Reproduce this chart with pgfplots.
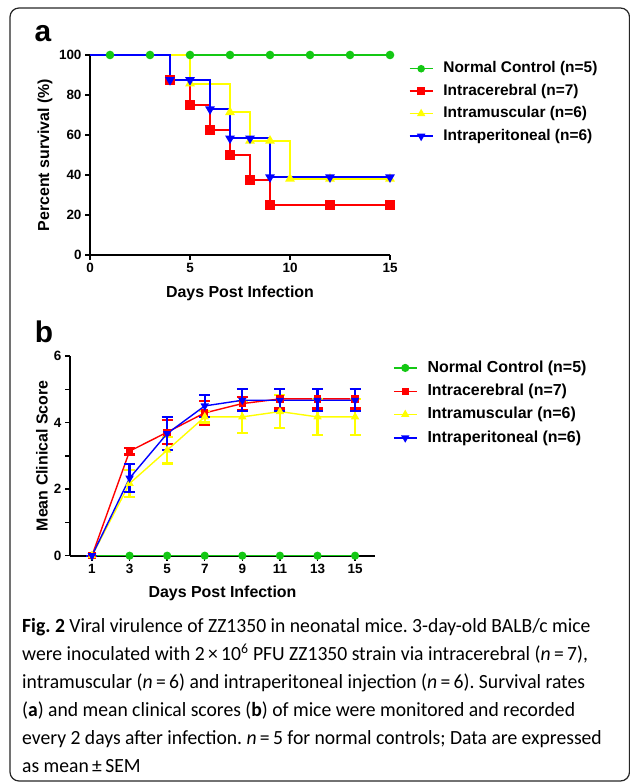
\documentclass[border=0pt]{standalone}
\usepackage{fontspec}
\setmainfont{Liberation Sans}
\newfontfamily\capfont[FakeStretch=0.975]{Carlito}
\usepackage{pgfplots}
\pgfplotsset{compat=1.18}

\definecolor{cgreen}{RGB}{20,200,20}
\definecolor{cred}{RGB}{255,0,0}
\definecolor{cyellow}{RGB}{255,255,0}
\definecolor{cblue}{RGB}{0,0,255}

\pgfplotsset{
  prism/.style={
    scale only axis, clip=false,
    axis lines*=left, axis line style={line width=1.8bp, -},
    tick align=outside, tick style={line width=1.5bp, black},
    major tick length=5bp, minor tick length=5bp,
    tick label style={font=\bfseries\fontsize{13.5}{14}\selectfont},
    label style={font=\bfseries\fontsize{16}{18}\selectfont},
    /pgf/number format/assume math mode=true,
    legend image code/.code={\draw[mark repeat=2,mark phase=2,##1] plot coordinates {(0bp,0bp) (11.5bp,0bp) (23bp,0bp)};},
    legend style={draw=none, fill=none, inner sep=0pt, outer sep=0pt, anchor=north west,
      nodes={inner sep=1bp, text height=12bp, text depth=3.5bp, anchor=west},
      column sep=9bp},
    legend cell align=left,
  },
  gr/.style={color=cgreen, line width=1.5bp, mark=*, mark size=3.5bp},
  rd/.style={color=cred, line width=1.5bp, mark=square*, mark size=3.5bp},
  yl/.style={color=cyellow, line width=1.5bp, mark=triangle*, mark size=4.2bp},
  bl/.style={color=cblue, line width=1.5bp, mark=triangle*, mark size=4.2bp, mark options={rotate=180}},
}

\begin{document}
\frenchspacing
\begin{tikzpicture}[x=1bp, y=1bp]
\path[use as bounding box] (0,0) rectangle (630,782);

% frame
\draw[line width=1.2bp, rounded corners=9bp, black!85] (10,1) rectangle (629.5,774);

% panel letters
\node[anchor=base, font=\bfseries\fontsize{30}{32}\selectfont] at (43,740) {a};
\node[anchor=base, font=\bfseries\fontsize{30}{32}\selectfont] at (44,439) {b};

% ---- panel a: survival
\begin{axis}[prism,
  at={(90bp,527bp)}, anchor=south west,
  width=300bp, height=200bp,
  xmin=0, xmax=15, ymin=0, ymax=100,
  xtick={0,5,10,15}, ytick={0,20,40,60,80,100},
  xlabel={Days Post Infection}, ylabel={Percent survival (\%)},
  xlabel style={at={(axis description cs:0.5,-0.19)}, anchor=center},
  ylabel style={at={(axis description cs:-0.15,0.5)}, anchor=center},
  legend style={at={(axis description cs:1.063,0.975)},
    font=\bfseries\fontsize{15.5}{18}\selectfont, row sep=5bp},
]
\addlegendimage{gr, mark size=3bp}
\addlegendentry{Normal Control (n=5)}
\addlegendimage{rd, mark size=3bp}
\addlegendentry{Intracerebral (n=7)}
\addlegendimage{yl, mark size=3.5bp}
\addlegendentry{Intramuscular (n=6)}
\addlegendimage{bl, mark size=3.5bp}
\addlegendentry{Intraperitoneal (n=6)}

\addplot[gr, line width=2bp, no marks, forget plot] coordinates {(0,100) (15,100)};
\addplot[gr, only marks, forget plot] coordinates {(1,100) (3,100) (5,100) (7,100) (9,100) (11,100) (13,100) (15,100)};

\addplot[rd, line width=2bp, no marks, const plot, forget plot] coordinates {(0,100) (4,87.5) (5,75) (6,62.5) (7,50) (8,37.5) (9,25) (15,25)};
\addplot[rd, only marks, mark size=3.8bp, forget plot] coordinates {(4,87.5) (5,75) (6,62.5) (7,50) (8,37.5) (9,25) (12,25) (15,25)};

\addplot[yl, line width=2bp, no marks, const plot, forget plot] coordinates {(0,100) (5,85.7) (7,71.4) (8,57.1) (10,38.1) (15,38.1)};
\addplot[yl, only marks, forget plot] coordinates {(5,85.7) (7,71.4) (8,57.1) (9,57.1) (10,38.1) (12,38.1) (15,38.1)};

\addplot[bl, line width=2bp, no marks, const plot, forget plot] coordinates {(0,100) (4,87.5) (6,72.9) (7,58.3) (9,38.9) (15,38.9)};
\addplot[bl, only marks, forget plot] coordinates {(4,87.5) (5,87.5) (6,72.9) (7,58.3) (8,58.3) (9,38.9) (12,38.9) (15,38.9)};
\end{axis}

% ---- panel b: clinical score
\begin{axis}[prism,
  at={(70bp,226.3bp)}, anchor=south west,
  width=305bp, height=199.7bp,
  xmin=-0.17, xmax=16.06, ymin=0, ymax=6,
  xtick={1,3,5,7,9,11,13,15}, ytick={0,2,4,6}, minor ytick={1,3,5},
  xlabel={Days Post Infection}, ylabel={Mean Clinical Score},
  xlabel style={at={(axis description cs:0.5,-0.187)}, anchor=center},
  ylabel style={at={(axis description cs:-0.092,0.5)}, anchor=center},
  legend style={at={(axis description cs:1.059,0.984)},
    font=\bfseries\fontsize{16}{18}\selectfont, row sep=5.8bp},
  error bars/error bar style={line width=2.2bp},
  error bars/error mark options={rotate=90, mark size=5.5bp, line width=2.2bp},
]
\addplot[gr, mark size=3.3bp] coordinates {(1,0) (3,0) (5,0) (7,0) (9,0) (11,0) (13,0) (15,0)};
\addlegendentry{Normal Control (n=5)}

\addplot[rd, mark size=3bp, line width=1.4bp, error bars/.cd, y dir=both, y explicit] coordinates {
  (1,0) +- (0,0) (3,3.14) +- (0,0.10) (5,3.71) +- (0,0.36) (7,4.29) +- (0,0.36)
  (9,4.57) +- (0,0.20) (11,4.71) +- (0,0.29) (13,4.71) +- (0,0.29) (15,4.71) +- (0,0.29)};
\addlegendentry{Intracerebral (n=7)}

\addplot[yl, mark size=3.5bp, line width=1.4bp, error bars/.cd, y dir=both, y explicit] coordinates {
  (1,0) +- (0,0) (3,2.17) +- (0,0.40) (5,3.17) +- (0,0.40) (7,4.17) +- (0,0.17)
  (9,4.17) +- (0,0.48) (11,4.33) +- (0,0.49) (13,4.17) +- (0,0.54) (15,4.17) +- (0,0.54)};
\addlegendentry{Intramuscular (n=6)}

\addplot[bl, mark size=3.5bp, line width=1.4bp, error bars/.cd, y dir=both, y explicit] coordinates {
  (1,0) +- (0,0) (3,2.33) +- (0,0.42) (5,3.67) +- (0,0.49) (7,4.50) +- (0,0.34)
  (9,4.67) +- (0,0.33) (11,4.67) +- (0,0.33) (13,4.67) +- (0,0.33) (15,4.67) +- (0,0.33)};
\addlegendentry{Intraperitoneal (n=6)}
\end{axis}

% caption
\begin{scope}[every node/.style={anchor=base west, inner sep=0pt, font=\capfont\fontsize{20.2}{22}\selectfont}]
\node at (22,149) {\textbf{Fig. 2} Viral virulence of ZZ1350 in neonatal mice. 3-day-old BALB/c mice};
\node at (22,121) {were inoculated with 2\,×\,10\textsuperscript{6} PFU ZZ1350 strain via intracerebral (\textit{n}\,=\,7),};
\node at (22,93) {intramuscular (\textit{n}\,=\,6) and intraperitoneal injection (\textit{n}\,=\,6). Survival rates};
\node at (22,65) {(\textbf{a}) and mean clinical scores (\textbf{b}) of mice were monitored and recorded};
\node at (22,37) {every 2 days after infection. \textit{n}\,=\,5 for normal controls; Data are expressed};
\node at (22,9) {as mean\,±\,SEM};
\end{scope}
\end{tikzpicture}
\end{document}
